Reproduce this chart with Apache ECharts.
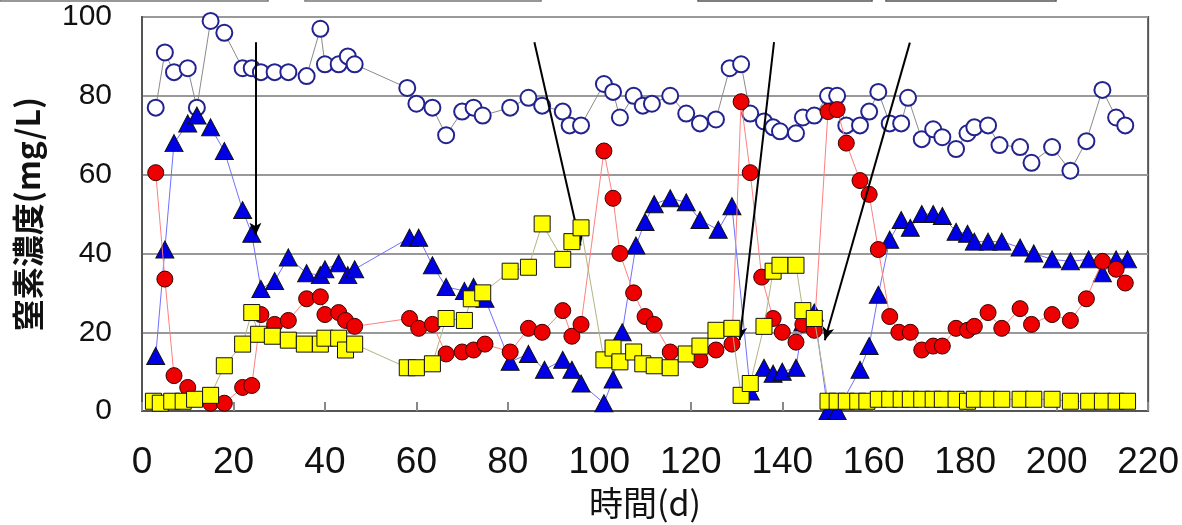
<!DOCTYPE html>
<html>
<head>
<meta charset="utf-8">
<script src="https://cdn.jsdelivr.net/npm/echarts@6/dist/echarts.min.js"></script>
<style>
  html, body { margin: 0; padding: 0; background: #fff; }
  #chart { width: 1182px; height: 525px; }
</style>
</head>
<body>
<div id="chart"></div>
<script>
// [day, mg/L]
const tnData = [[3,77],[5,91],[7,86],[10,87],[12,77],[15,99],[18,96],[22,87],[24,87],[26,86],[29,86],[32,86],[36,85],[39,97],[40,88],[43,88],[45,90],[46.5,88],
  [58,82],[60,78],[63.5,77],[66.5,70],[70,76],[72.5,77],[74.5,75],[80.5,77],[84.5,79.5],[87.5,77.5],[92,76],[93.5,72.5],[96,72.5],
  [101,83],[103,81],[104.5,74.5],[107.5,80],[109.5,77.5],[111.5,78],[115.5,80],[119,75.5],[122,73],[125.5,74],[128.5,87],[131,88],
  [133,75.5],[136,73.5],[138,72],[139.5,71],[143,70.5],[144.5,74.5],[147,75],[150,80],[152,80],[154,72.5],[157,72.5],[159,76],[161,81],
  [163.5,73],[166,73],[167.5,79.5],[170.5,69],[173,71.5],[175,69.5],[178,66.5],[180.5,70.5],[182,72],[185,72.5],[187.5,67.5],
  [192,67],[194.5,63],[199,67],[203,61],[206.5,68.5],[210,81.5],[213,74.5],[215,72.5]];

const nh4Data = [[3,14],[5,41],[7,68],[10,73],[12,75],[15,72],[18,66],[22,51],[24,45],[26,31],[29,33],[32,39],[36,35],[39,34.5],[40,36],[43,37.5],[45,34.5],[46.5,36],
  [58.5,44],[60.5,44],[63.5,37],[66.5,31.5],[70.5,30.5],[72.5,31.5],[75,28.5],[80.5,12.5],[84.5,14.5],[88,10.5],[92,13],[94,10.5],[96,7],
  [101,2],[103,8],[105,20],[108,42],[110,48],[112,52.5],[115.5,54],[119,53],[122,48.5],[126,46],[129,52],[133,5],[136,11],[138,9.5],[140,10],
  [143,11],[144.5,22.5],[147,25],[150,0],[152,0],[157,10.5],[159,16.5],[161,29.5],[163.5,43.5],[166,48.5],[168,46.5],[170.5,50],[173,50],
  [175,49.5],[178,45.5],[180.5,45],[182,43],[185,43],[188,43],[192,41.5],[195,40],[199,38.5],[203,38],[207,38.5],[210,35],[213,38.5],[215.5,38.5]];

const no2Data = [[3,60.5],[5,33.5],[7,9],[10,6],[15,2],[18,2],[22,6],[24,6.5],[26,24.5],[29,22],[32,23],[36,28.5],[39,29],[40,24.5],[43,25],[44.5,23],[46.5,21.5],
  [58.5,23.5],[60.5,21],[63.5,22],[66.5,14.5],[70,15],[72.5,15.5],[75,17],[80.5,15],[84.5,21],[87.5,20],[92,25.5],[94,19],[96,22],
  [101,66],[103,54],[104.5,40],[107.5,30],[110,24],[112,22],[115.5,15],[122,13],[125.5,15.5],[129,17],[131,78.5],[133,60.5],[135.5,34],
  [138,23.5],[140,20],[143,17.5],[144.5,22],[147,20.5],[150,76],[152,76.5],[154,68],[157,58.5],[159,55],[161,41],[163.5,24],[165.5,20],
  [168,20],[170.5,15.5],[173,16.5],[175,16.5],[178,21],[180.5,20.5],[182,21.5],[185,25],[188,21],[192,26],[194.5,22],[199,24.5],
  [203,23],[206.5,28.5],[210,38],[213,36],[215,32.5]];

const no3Data = [[2.5,2.5],[4,2],[6.5,2.5],[9,2.5],[11.5,3],[15,4],[18,11.5],[22,17],[24,25],[25.5,19.5],[28.5,19],[32,18],[35.5,17],[39,17],[40,18.5],[43,18.5],[44.5,15.5],[46.5,17],
  [58,11],[60,11],[63.5,12],[66.5,23.5],[70.5,23],[72,28.5],[74.5,30],[80.5,35.5],[84.5,36.5],[87.5,47.5],[92,38.5],[94,43],[96,46.5],
  [101,13],[103,16],[104.5,12.5],[107.5,15],[109.5,12],[112,11.5],[115.5,11],[119,14.5],[122,16.5],[125.5,20.5],[129,21],[131,4],[133,7],
  [136,21.5],[138,35.5],[139.5,37],[143,37],[144.5,25.5],[147,23.5],[150,2.5],[152,2.5],[154,2.5],[156.5,2.5],[158.5,2.5],[161,3],
  [163.5,3],[166,3],[168,3],[170.5,3],[173,3],[175,3],[178,3],[180.5,2.5],[182,3],[185,3],[188,3],[192,3],[195,3],[199,3],
  [203,2.5],[207,2.5],[210,2.5],[213,2.5],[215.5,2.5]];

// annotation arrows: [from, to] in data coords
const arrows = [
  [[24.8, 93.6], [24.8, 44.5]],
  [[85.8, 93.6], [95.9, 42]],
  [[138.2, 93.6], [130.7, 18]],
  [[167.9, 93.5], [149.3, 18]]
];

const xTicks = [0, 220, 20];   // min, max, interval
const yTicks = [0, 100, 20];

const chart = echarts.init(document.getElementById('chart'), null, { renderer: 'canvas' });

function lineSeries(name, data, symbol, size, fill, stroke, strokeW, lineColor, z) {
  return {
    name: name,
    type: 'line',
    data: data,
    symbol: symbol,
    symbolSize: size,
    showAllSymbol: true,
    clip: false,
    z: z,
    itemStyle: { color: fill, borderColor: stroke, borderWidth: strokeW },
    lineStyle: { color: lineColor, width: 1 },
    emphasis: { disabled: true },
    animation: false
  };
}

const series = [
  lineSeries('T-N', tnData, 'circle', 16, '#fff', '#23238f', 2, '#8a8a8a', 2),
  lineSeries('NH4-N', nh4Data, 'triangle', [18, 17], '#0000e6', '#111', 1, '#7070ff', 3),
  lineSeries('NO2-N', no2Data, 'circle', 16, '#ee0000', '#3a0000', 1, '#ff8080', 4),
  lineSeries('NO3-N', no3Data, 'rect', 16, '#ffff00', '#111', 1, '#b4b482', 5)
];

series[3].markLine = {
  silent: true,
  symbol: ['none', 'arrow'],
  symbolSize: [9, 13],
  label: { show: false },
  lineStyle: { color: '#000', width: 2, type: 'solid' },
  data: arrows.map(a => [{ coord: a[0] }, { coord: a[1] }])
};

chart.setOption({
  backgroundColor: '#fff',
  animation: false,
  grid: {
    left: 142, right: 27, top: 17, bottom: 110,
    show: true, borderColor: '#555', borderWidth: 2
  },
  xAxis: {
    type: 'value',
    min: xTicks[0], max: xTicks[1], interval: xTicks[2],
    name: '時間(d)',
    nameLocation: 'middle',
    nameGap: 72,
    nameTextStyle: { fontFamily: '"Noto Sans CJK JP"', fontSize: 34, color: '#111' },
    axisLine: { show: true, lineStyle: { color: '#555', width: 2 } },
    axisTick: { show: true, inside: true, length: 9, lineStyle: { color: '#888', width: 2 } },
    axisLabel: { margin: 33, fontFamily: '"Liberation Sans Narrow", "Liberation Sans", Arial', fontSize: 37, color: '#111' },
    splitLine: { show: false }
  },
  yAxis: {
    type: 'value',
    min: yTicks[0], max: yTicks[1], interval: yTicks[2],
    name: '窒素濃度(mg/L)',
    nameLocation: 'middle',
    nameRotate: 90,
    nameGap: 98,
    nameTextStyle: { fontFamily: '"Noto Sans CJK JP"', fontSize: 32, fontWeight: 'bold', color: '#111' },
    axisLine: { show: true, lineStyle: { color: '#555', width: 2 } },
    axisTick: { show: false },
    axisLabel: { margin: 30, fontFamily: '"Liberation Sans", Arial', fontSize: 30, color: '#111' },
    splitLine: { show: true, lineStyle: { color: '#999', width: 2 } }
  },
  graphic: [
    // legend boxes cut off at the top edge of the picture
    { type: 'rect', shape: { x: 0, y: -40, width: 268, height: 41 }, style: { fill: 'none', stroke: '#777', lineWidth: 1.5 }, silent: true },
    { type: 'rect', shape: { x: 305, y: -40, width: 236, height: 41 }, style: { fill: 'none', stroke: '#777', lineWidth: 1.5 }, silent: true },
    { type: 'rect', shape: { x: 698, y: -40, width: 174, height: 41 }, style: { fill: 'none', stroke: '#555', lineWidth: 1.5 }, silent: true },
    { type: 'rect', shape: { x: 886, y: -40, width: 170, height: 41 }, style: { fill: 'none', stroke: '#555', lineWidth: 1.5 }, silent: true }
  ],
  series: series
});
</script>
</body>
</html>
